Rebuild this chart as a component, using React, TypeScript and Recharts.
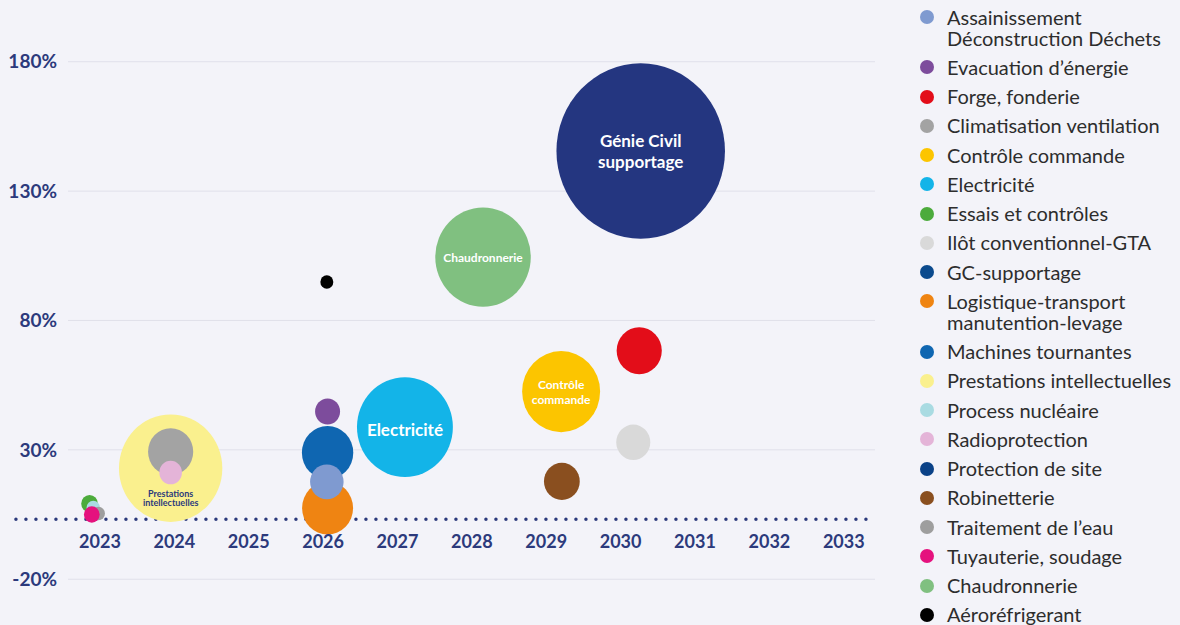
import { ScatterChart, Scatter, XAxis, YAxis, ZAxis, ReferenceLine, Legend } from 'recharts';

// legend order (as in the source)
const legendNames = [
  'Assainissement\nDéconstruction Déchets',
  'Evacuation d’énergie',
  'Forge, fonderie',
  'Climatisation ventilation',
  'Contrôle commande',
  'Electricité',
  'Essais et contrôles',
  'Ilôt conventionnel-GTA',
  'GC-supportage',
  'Logistique-transport\nmanutention-levage',
  'Machines tournantes',
  'Prestations intellectuelles',
  'Process nucléaire',
  'Radioprotection',
  'Protection de site',
  'Robinetterie',
  'Traitement de l’eau',
  'Tuyauterie, soudage',
  'Chaudronnerie',
  'Aéroréfrigerant',
];

// bubbles, in drawing order (big ones first)
const bubbleNames = [
  'Prestations intellectuelles',
  'Génie Civil supportage',
  'Chaudronnerie',
  'Electricité',
  'Contrôle commande',
  'Logistique-transport\nmanutention-levage',
  'Machines tournantes',
  'Assainissement\nDéconstruction Déchets',
  'Climatisation ventilation',
  'Forge, fonderie',
  'Ilôt conventionnel-GTA',
  'Robinetterie',
  'Evacuation d’énergie',
  'Radioprotection',
  'Aéroréfrigerant',
  'Essais et contrôles',
  'Process nucléaire',
  'Traitement de l’eau',
  'Tuyauterie, soudage',
];
const bubbleYears = [2023.95, 2030.27, 2028.15, 2027.1, 2029.2, 2026.06, 2026.06, 2026.05, 2023.95, 2030.25, 2030.17, 2029.21, 2026.06, 2023.95, 2026.05, 2022.86, 2022.91, 2022.98, 2022.89];
const bubbleRates = [22.9, 145.5, 104.5, 38.8, 52.5, 7.5, 28.9, 17.6, 29.3, 68.3, 32.9, 17.8, 44.8, 21.2, 94.9, 9.2, 7.6, 5.4, 5.0];
const bubbleWeights = [26.7, 71, 22.8, 23, 15.2, 6.5, 6.6, 2.8, 5.1, 5.1, 2.9, 3.2, 1.56, 1.28, 0.42, 0.7, 0.45, 0.42, 0.62];

const yearTicks = [2023, 2024, 2025, 2026, 2027, 2028, 2029, 2030, 2031, 2032, 2033];
const rateTicks = [-20, 30, 80, 130, 180];
const zeroLineRate = 3.2;

const COLORS: Record<string, string> = {
  'Assainissement\nDéconstruction Déchets': '#7f9ad0',
  'Evacuation d’énergie': '#7d4c9c',
  'Forge, fonderie': '#e30d19',
  'Climatisation ventilation': '#a3a3a3',
  'Contrôle commande': '#fcc500',
  'Electricité': '#13b4e8',
  'Essais et contrôles': '#4cab3c',
  'Ilôt conventionnel-GTA': '#d9d9d9',
  'GC-supportage': '#0b4a8d',
  'Logistique-transport\nmanutention-levage': '#ef8412',
  'Machines tournantes': '#0f66b1',
  'Prestations intellectuelles': '#faf08e',
  'Process nucléaire': '#a9dbe2',
  'Radioprotection': '#e4b4d8',
  'Protection de site': '#0a4187',
  'Robinetterie': '#8a4f1f',
  'Traitement de l’eau': '#9e9e9e',
  'Tuyauterie, soudage': '#e5127e',
  'Chaudronnerie': '#80c080',
  'Aéroréfrigerant': '#000000',
  'Génie Civil supportage': '#243680',
};

const INNER_LABELS: Record<string, { lines: string[]; size: number; weight: number; color: string; dy: number; lh: number }> = {
  'Génie Civil supportage': { lines: ['Génie Civil', 'supportage'], size: 17, weight: 700, color: '#ffffff', dy: 0, lh: 21 },
  'Electricité': { lines: ['Electricité'], size: 17, weight: 700, color: '#ffffff', dy: 2, lh: 18 },
  'Chaudronnerie': { lines: ['Chaudronnerie'], size: 12, weight: 700, color: '#ffffff', dy: 0, lh: 12 },
  'Contrôle commande': { lines: ['Contrôle', 'commande'], size: 12, weight: 700, color: '#ffffff', dy: 0, lh: 15 },
  'Prestations intellectuelles': { lines: ['Prestations', 'intellectuelles'], size: 9, weight: 700, color: '#2c3a7c', dy: 30, lh: 9 },
};

const NAVY = '#2c3a7c';

const BubbleShape = (props: any) => {
  const { cx, cy, width, fill, payload } = props;
  const r = width / 2;
  const label = INNER_LABELS[payload.name];
  return (
    <g>
      <ellipse cx={cx} cy={cy} rx={r} ry={r * 1.04} fill={fill} />
      {label &&
        label.lines.map((line, i) => (
          <text
            key={line}
            x={cx}
            y={cy + label.dy - ((label.lines.length - 1) * label.lh) / 2 + i * label.lh}
            textAnchor="middle"
            dominantBaseline="central"
            fill={label.color}
            fontSize={label.size}
            fontWeight={label.weight}
          >
            {line}
          </text>
        ))}
    </g>
  );
};

const YearTick = (props: any) => {
  const { x, y, payload } = props;
  return (
    <text x={x} y={y - 70} textAnchor="middle" fill={NAVY} fontSize={18} fontWeight={700}>
      {payload.value}
    </text>
  );
};

const renderLegend = (props: any) => {
  const items = (props.payload || [])
    .filter((p: any) => legendNames.includes(p.value))
    .sort((a: any, b: any) => legendNames.indexOf(a.value) - legendNames.indexOf(b.value));
  return (
    <div style={{ paddingTop: 6.5 }}>
      {items.map((p: any) => (
        <div key={p.value} style={{ display: 'flex', alignItems: 'flex-start', marginBottom: 8.25 }}>
          <span
            style={{
              width: 14,
              height: 14,
              borderRadius: '50%',
              background: p.color,
              marginTop: 3.5,
              marginLeft: 10,
              marginRight: 13,
              flex: 'none',
            }}
          />
          <span style={{ fontSize: 20, lineHeight: '21px', color: '#2d2d2d', whiteSpace: 'pre' }}>{p.value}</span>
        </div>
      ))}
    </div>
  );
};

export default function App() {
  return (
    <div
      style={{
        position: 'absolute',
        left: 0,
        top: 0,
        width: 1180,
        height: 625,
        background: '#f3f3f9',
        fontFamily: 'Lato, sans-serif',
      }}
    >
      <ScatterChart width={1180} height={625} margin={{ top: 10, right: 35, bottom: 6, left: 0 }}>
        <XAxis
          type="number"
          dataKey="x"
          domain={[2022.57, 2033.42]}
          allowDataOverflow
          ticks={yearTicks}
          height={1}
          axisLine={false}
          tickLine={false}
          tickSize={0}
          tickMargin={0}
          interval={0}
          tick={<YearTick />}
        />
        <YAxis
          type="number"
          dataKey="y"
          domain={[-35, 200]}
          allowDataOverflow
          ticks={rateTicks}
          width={68}
          axisLine={false}
          tickLine={false}
          tickSize={0}
          tickMargin={11}
          interval={0}
          tick={{ fill: NAVY, fontSize: 19, fontWeight: 700 }}
          tickFormatter={(v) => `${v}%`}
        />
        <ZAxis type="number" dataKey="z" domain={[0, 100]} range={[0, 31416]} />
        {rateTicks.map((t) => (
          <ReferenceLine key={t} y={t} stroke="#e0e0ea" strokeWidth={1} />
        ))}
        <ReferenceLine
          segment={[
            { x: 2021.87, y: zeroLineRate },
            { x: 2033.37, y: zeroLineRate },
          ]}
          ifOverflow="visible"
          stroke={NAVY}
          strokeWidth={3.5}
          strokeDasharray="0 10"
          strokeLinecap="round"
        />
        <Legend
          layout="vertical"
          align="right"
          verticalAlign="top"
          content={renderLegend}
          wrapperStyle={{ position: 'absolute', left: 910, top: 0, width: 270 }}
        />
        {bubbleNames.map((name, i) => (
          <Scatter
            key={name}
            name={name}
            data={[{ name, x: bubbleYears[i], y: bubbleRates[i], z: bubbleWeights[i] }]}
            fill={COLORS[name]}
            shape={BubbleShape}
            legendType={name === 'Génie Civil supportage' ? 'none' : 'circle'}
            isAnimationActive={false}
          />
        ))}
        {legendNames
          .filter((name) => !bubbleNames.includes(name))
          .map((name) => (
            <Scatter key={name} name={name} data={[]} fill={COLORS[name]} isAnimationActive={false} />
          ))}
      </ScatterChart>
    </div>
  );
}
